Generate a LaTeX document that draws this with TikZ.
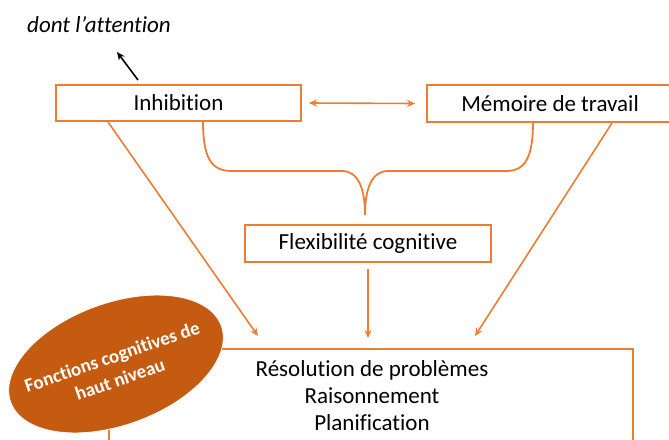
\documentclass[tikz,border=0pt]{standalone}
\usepackage{fontspec}
\setmainfont{Carlito}[Ligatures=NoCommon]
\usetikzlibrary{arrows.meta,calc,shapes.geometric}
\definecolor{orline}{HTML}{ED7D31}
\definecolor{ovalfill}{HTML}{C55A11}
\tikzset{
  obox/.style={draw=orline, line width=1.8pt, fill=white, inner sep=0pt},
  lbl/.style={font=\fontsize{23}{27}\selectfont, text=black, inner sep=0pt, align=center},
  oarrow/.style={draw=orline, line width=1.6pt, -{Stealth[length=8pt,width=7pt]}},
  obrace/.style={draw=orline, line width=1.8pt},
  oval/.style={ellipse, fill=ovalfill, draw=white, line width=0.8pt, inner sep=0pt,
    minimum width=224pt, minimum height=122pt},
  ovallbl/.style={text=white, align=center, inner sep=0pt,
    font=\fontsize{19}{24}\selectfont\bfseries},
}
\begin{document}
\begin{tikzpicture}[x=1pt,y=-1pt]
\useasboundingbox (0,0) rectangle (669,439);
\begin{scope}
\clip (0,0) rectangle (669,439);
% boxes
\node[obox, minimum width=245pt, minimum height=36pt] (inh) at (178.5,103) {};
\node[lbl] (inhlbl) at (178.5,103) {Inhibition};
\node[obox, minimum width=253pt, minimum height=37pt] (mem) at (553.5,103.5) {};
\node[lbl] (memlbl) at (550,103.5) {Mémoire de travail};
\node[obox, minimum width=246pt, minimum height=37pt] (flex) at (368,243.5) {};
\node[lbl] (flexlbl) at (368,243.5) {Flexibilité cognitive};
\node[obox, minimum width=524pt, minimum height=130pt] (res) at (371,414) {};
\node[lbl, anchor=north] (reslbl) at (372,360) {Résolution de problèmes\\Raisonnement\\Planification};
% brace
\coordinate (bl) at (203,121);
\coordinate (br) at (533,122);
\coordinate (btip) at (365,215);
\draw[obrace] (bl) .. controls (203,158) and (211,171) .. (232,171) -- (342,171)
  .. controls (358,171) and (365,188) .. (btip)
  .. controls (365,188) and (372,171) .. (388,171) -- (506,171)
  .. controls (525,171) and (533,158) .. (br);
% arrows
\draw[draw=orline, line width=1.6pt, {Stealth[length=8pt,width=7pt]}-{Stealth[length=8pt,width=7pt]}]
  ([xshift=7pt]inh.east) -- ([xshift=-11pt]mem.west);
\coordinate (a1s) at (108,122);
\coordinate (a1e) at (258,336);
\coordinate (a2s) at (368,269);
\coordinate (a2e) at (368,338);
\coordinate (a3s) at (612,123);
\coordinate (a3e) at (475,336);
\draw[oarrow] (a1s) -- (a1e);
\draw[oarrow] (a2s) -- (a2e);
\draw[oarrow] (a3s) -- (a3e);
% attention
\node[font=\fontsize{23}{27}\selectfont\itshape, inner sep=0pt] (att) at (99,25) {dont l’attention};
\coordinate (atts) at (138,80);
\coordinate (atte) at (117,52);
\draw[line width=1.6pt, -{Stealth[length=8pt,width=7pt]}] (atts) -- (atte);
% oval
\node[oval, rotate=20] (fonc) at (116,364) {};
\node[ovallbl, rotate=19] (fonclbl) at (116,368) {Fonctions cognitives de\\haut niveau};
\end{scope}
\end{tikzpicture}
\end{document}
